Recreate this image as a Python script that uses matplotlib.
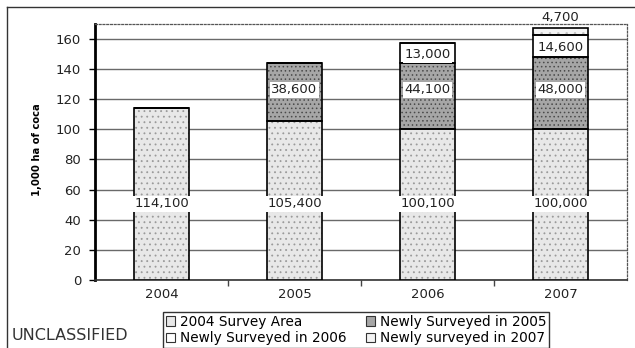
import matplotlib
matplotlib.use("Agg")
import matplotlib.pyplot as plt
from matplotlib.lines import Line2D
from matplotlib.patches import Patch

years = ["2004", "2005", "2006", "2007"]
area_2004 = [114.1, 105.4, 100.1, 100.0]
new_2005 = [0.0, 38.6, 44.1, 48.0]
new_2006 = [0.0, 0.0, 13.0, 14.6]
new_2007 = [0.0, 0.0, 0.0, 4.7]
series_names = ["2004 Survey Area", "Newly Surveyed in 2005",
                "Newly Surveyed in 2006", "Newly surveyed in 2007"]
y_ticks = [0, 20, 40, 60, 80, 100, 120, 140, 160]

plt.rcParams["hatch.linewidth"] = 0.6

W, H = 635, 348
fig = plt.figure(figsize=(W / 100, H / 100), dpi=100)
fig.patch.set_facecolor("white")
ax = fig.add_axes([95 / W, 1 - 280 / H, 532 / W, (280 - 23.6) / H])

layers = [area_2004, new_2005, new_2006, new_2007]
fills = ["#e8e8e8", "#a6a6a6", "#ffffff", "#f3f3f3"]
dots = ["#9a9a9a", "#4a4a4a", "#ffffff", "#c0c0c0"]
hatches = ["...", "....", None, ".."]
x = list(range(len(years)))
width = 0.41
bottoms = [0.0] * len(years)
for vals, fc, dc, ht in zip(layers, fills, dots, hatches):
    # stippled interior, then a crisp black outline
    ax.bar(x, vals, width, bottom=bottoms, color=fc, edgecolor=dc,
           linewidth=0, hatch=ht, zorder=3)
    ax.bar(x, vals, width, bottom=bottoms, fill=False, edgecolor="black",
           linewidth=1.2, zorder=4)
    bottoms = [b + v for b, v in zip(bottoms, vals)]

# value labels on the stacks
label_style = dict(ha="center", va="center", fontsize=9.5, color="#222222",
                   zorder=6, clip_on=False)
box = dict(facecolor="white", edgecolor="none", pad=1.0)
base = [0.0] * len(years)
for li, vals in enumerate(layers):
    for i, v in enumerate(vals):
        if v <= 0:
            continue
        text = f"{int(round(v * 1000)):,}"
        if li == 0:
            ax.text(i, 50.5, text, bbox=box, **label_style)
        elif li == 1:
            ax.text(i, 126.0, text, bbox=box, **label_style)
        elif li == 2:
            ax.text(i, base[i] + v * 0.4, text, bbox=box, **label_style)
        else:
            ax.text(i, base[i] + v + 6.5, text, **label_style)
    base = [b + v for b, v in zip(base, vals)]

ax.set_xlim(-0.5, 3.5)
ax.set_ylim(0, 170)
ax.set_yticks(y_ticks)
ax.set_yticklabels([str(t) for t in y_ticks], fontsize=9.5, color="#222222")
ax.set_xticks(x)
ax.set_xticklabels(years, fontsize=9.5, color="#222222")
ax.set_xticks([0.5, 1.5, 2.5], minor=True)
ax.tick_params(axis="x", which="major", length=0, pad=6)
ax.tick_params(axis="x", which="minor", length=4, width=1, color="#444444")
ax.tick_params(axis="y", length=4, width=1, pad=6)

ax.grid(axis="y", color="#6a6a6a", linewidth=1.0, zorder=0)
ax.set_axisbelow(True)

ax.spines["left"].set_linewidth(2.0)
ax.spines["left"].set_color("black")
ax.spines["bottom"].set_linewidth(1.2)
ax.spines["bottom"].set_color("#333333")
for side in ("top", "right"):
    ax.spines[side].set_linestyle((0, (1.5, 1.5)))
    ax.spines[side].set_linewidth(0.9)
    ax.spines[side].set_color("#555555")

fig.text(37 / W, 1 - 150 / H, "1,000 ha of coca", rotation=90,
         ha="center", va="center", fontsize=8, fontweight="bold",
         family="DejaVu Sans", fontstretch="condensed")

fig.text(12 / W, 1 - 336 / H, "UNCLASSIFIED", ha="left", va="center",
         fontsize=11.5, color="#333333")

# page frame
fig.add_artist(Line2D([7 / W, 1.0], [1 - 7 / H, 1 - 7 / H],
                      transform=fig.transFigure, color="#333333", linewidth=1))
fig.add_artist(Line2D([7 / W, 7 / W], [1 - 7 / H, 0.0],
                      transform=fig.transFigure, color="#333333", linewidth=1))

handles = [Patch(facecolor=fc, edgecolor="#333333", linewidth=0.8)
           for fc in fills]
order = [0, 2, 1, 3]
leg = fig.legend([handles[k] for k in order],
                 [series_names[k] for k in order],
                 loc="lower left", bbox_to_anchor=(163 / W, 0.0), ncol=2,
                 fontsize=9.8, frameon=True, fancybox=False, framealpha=1,
                 edgecolor="#333333", borderpad=0.2, labelspacing=0.2,
                 handlelength=0.7, handleheight=0.7, handletextpad=0.35,
                 columnspacing=1.4, borderaxespad=0.0)
leg.get_frame().set_linewidth(1.0)

fig.savefig("out.png", dpi=100, facecolor="white")
